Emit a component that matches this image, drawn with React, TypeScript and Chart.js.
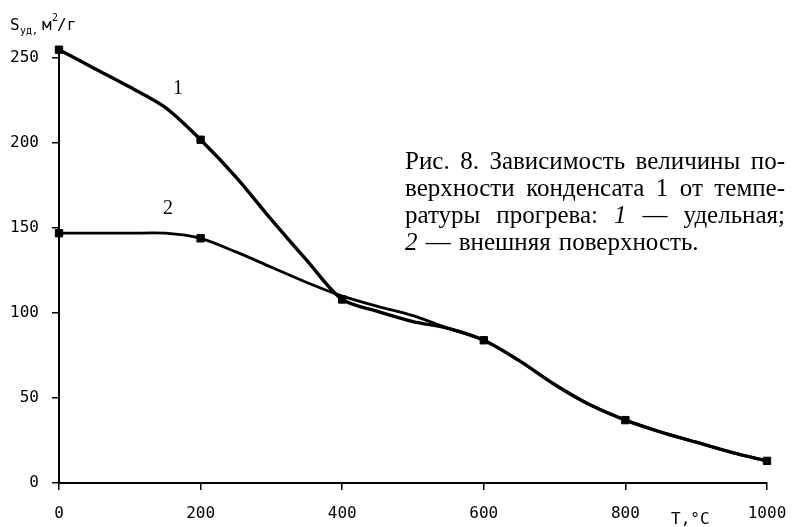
import React, { useEffect, useRef } from 'react';
import { Chart, registerables } from 'chart.js';
Chart.register(...registerables);

// Temperature, °C
const temps = [0, 50, 100, 150, 200, 250, 300, 350, 400, 450, 500, 550, 600, 650, 700, 750, 800, 850, 900, 950, 1000];
// 1 — specific surface, m²/g
const specific = [255, 244, 233, 221, 202, 180, 155, 131, 108, 101, 95, 91, 84, 72, 58, 46, 37, 30, 24, 18, 13];
// 2 — external surface, m²/g
const external = [147, 147, 147, 147, 144, 136, 127, 118, 110, 104, 98.5, 91, 84, 72, 58, 46, 37, 30, 24, 18, 13];
const markers1 = [0, 200, 400, 600, 800, 1000];
const markers2 = [0, 200];
const yTicks = [0, 50, 100, 150, 200, 250];
const xTicks = [0, 200, 400, 600, 800, 1000];

type Word = { t: string; i?: boolean };
const captionLines: Word[][] = [
  [{ t: 'Рис.' }, { t: '8.' }, { t: 'Зависимость' }, { t: 'величины' }, { t: 'по-' }],
  [{ t: 'верхности' }, { t: 'конденсата' }, { t: '1' }, { t: 'от' }, { t: 'темпе-' }],
  [{ t: 'ратуры' }, { t: 'прогрева:' }, { t: '1', i: true }, { t: '—' }, { t: 'удельная;' }],
  [{ t: '2', i: true }, { t: '—' }, { t: 'внешняя' }, { t: 'поверхность.' }],
];

const MONO = '"DejaVu Sans Mono", monospace';
const SERIF = '"Liberation Serif", "Times New Roman", serif';

const textPlugin = {
  id: 'texts',
  afterDraw(chart: any) {
    const ctx = chart.ctx as CanvasRenderingContext2D;
    ctx.save();
    ctx.fillStyle = '#000';
    ctx.textBaseline = 'alphabetic';
    ctx.textAlign = 'left';

    // y-axis title: S_уд, м²/г
    ctx.font = `16px ${MONO}`;
    ctx.fillText('S', 10, 30);
    ctx.font = `10px ${MONO}`;
    ctx.fillText('уд,', 20, 34);
    ctx.font = `16px ${MONO}`;
    ctx.fillText('м', 42, 30);
    ctx.font = `10px ${MONO}`;
    ctx.fillText('2', 52, 21);
    ctx.font = `16px ${MONO}`;
    ctx.fillText('/г', 57, 30);

    // x-axis title
    ctx.font = `16px ${MONO}`;
    ctx.fillText('T,°C', 671, 524);

    // curve labels
    ctx.font = `20px ${SERIF}`;
    ctx.textAlign = 'center';
    ctx.fillText('1', 178, 94);
    ctx.fillText('2', 168, 214);

    // caption, justified
    ctx.textAlign = 'left';
    const left = 405;
    const right = 785;
    const size = 25;
    const base0 = 169;
    const lh = 27;
    captionLines.forEach((words, li) => {
      const y = base0 + li * lh;
      const fonts = words.map(w => `${w.i ? 'italic ' : ''}${size}px ${SERIF}`);
      const widths = words.map((w, k) => { ctx.font = fonts[k]; return ctx.measureText(w.t).width; });
      const total = widths.reduce((a, b) => a + b, 0);
      const last = li === captionLines.length - 1;
      ctx.font = `${size}px ${SERIF}`;
      const gap = last ? ctx.measureText(' ').width * 1.3 : (right - left - total) / (words.length - 1);
      let x = left;
      words.forEach((w, k) => {
        ctx.font = fonts[k];
        ctx.fillText(w.t, x, y);
        x += widths[k] + gap;
      });
    });
    ctx.restore();
  },
};

export default function App() {
  const ref = useRef<HTMLCanvasElement>(null);
  useEffect(() => {
    document.body.style.margin = '0';
    const canvas = ref.current!;
    const radius = (marks: number[], r: number) => (c: any) => {
      const p = c.raw;
      return p && marks.includes(p.x) ? r : 0;
    };
    const chart = new Chart(canvas, {
      type: 'line',
      data: {
        datasets: [
          {
            label: '1',
            data: temps.map((x, k) => ({ x, y: specific[k] })),
            borderColor: '#000',
            backgroundColor: '#000',
            borderWidth: 3.4,
            tension: 0.3,
            pointStyle: 'rect',
            pointRadius: radius(markers1, 5.2) as any,
            pointBorderWidth: 1,
            pointHoverRadius: 0,
            clip: false as any,
          },
          {
            label: '2',
            data: temps.map((x, k) => ({ x, y: external[k] })),
            borderColor: '#000',
            backgroundColor: '#000',
            borderWidth: 2.8,
            tension: 0.3,
            pointStyle: 'rect',
            pointRadius: radius(markers2, 5.2) as any,
            pointBorderWidth: 1,
            pointHoverRadius: 0,
            clip: false as any,
          },
        ],
      },
      options: {
        animation: false,
        responsive: false,
        events: [],
        layout: { padding: { left: 0, right: 27, top: 48, bottom: 0 } },
        plugins: { legend: { display: false }, tooltip: { enabled: false } },
        scales: {
          x: {
            type: 'linear',
            min: 0,
            max: 1000,
            afterBuildTicks: (s: any) => { s.ticks = xTicks.map(v => ({ value: v })); },
            afterFit: (s: any) => { s.height = 44; s.paddingLeft = 0; s.paddingRight = 0; },
            ticks: { color: '#000', font: { family: MONO, size: 16 }, padding: 14, maxRotation: 0, callback: (v: any) => String(v) },
            grid: { drawOnChartArea: false, drawTicks: true, tickLength: 7, color: '#000', lineWidth: 1.5 },
            border: { color: '#000', width: 2 },
          },
          y: {
            min: 0,
            max: 256,
            afterBuildTicks: (s: any) => { s.ticks = yTicks.map(v => ({ value: v })); },
            afterFit: (s: any) => { s.width = 59; s.paddingTop = 0; s.paddingBottom = 0; },
            ticks: { color: '#000', font: { family: MONO, size: 16 }, padding: 13, callback: (v: any) => String(v) },
            grid: { drawOnChartArea: false, drawTicks: true, tickLength: 7, color: '#000', lineWidth: 1.5 },
            border: { color: '#000', width: 2 },
          },
        },
      },
      plugins: [textPlugin],
    });
    return () => chart.destroy();
  }, []);
  return (
    <div style={{ width: 794, height: 527, background: '#fff' }}>
      <canvas ref={ref} width={794} height={527} style={{ display: 'block' }} />
    </div>
  );
}
